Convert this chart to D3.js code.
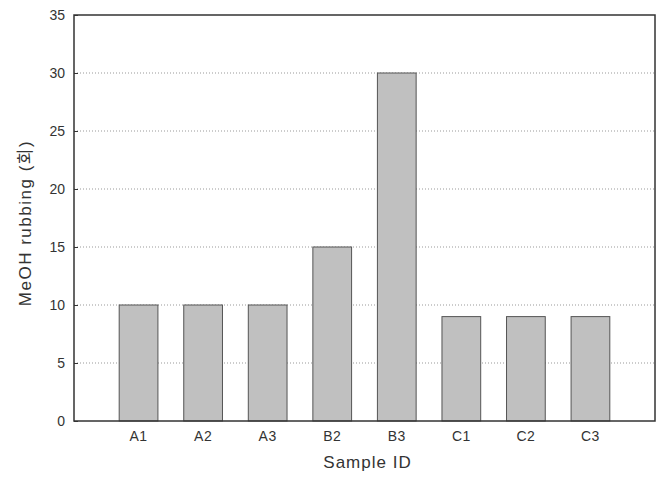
<!DOCTYPE html>
<html>
<head>
<meta charset="utf-8">
<script src="https://cdn.jsdelivr.net/npm/d3@7"></script>
<style>
  body { margin: 0; background: #fff; }
  text { font-family: "Liberation Sans", Arial, "Noto Sans CJK KR", sans-serif; fill: #333; }
</style>
</head>
<body>
<div id="chart"></div>
<script>
// data
var samples = ["A1", "A2", "A3", "B2", "B3", "C1", "C2", "C3"];
var rubbing = [10, 10, 10, 15, 30, 9, 9, 9];
var yTicks = [0, 5, 10, 15, 20, 25, 30, 35];

// set the dimensions and margins of the graph
var margin = {top: 15, right: 4, bottom: 63, left: 74},
    width = 659 - margin.left - margin.right,
    height = 484 - margin.top - margin.bottom;

var svg = d3.select("#chart").append("svg")
    .attr("width", 659)
    .attr("height", 484)
    .append("g")
    .attr("transform", "translate(" + margin.left + "," + margin.top + ")");

var x = d3.scaleBand()
    .domain(samples)
    .range([0, width])
    .paddingInner(0.4)
    .paddingOuter(0.7);

var y = d3.scaleLinear()
    .domain([0, 35])
    .range([height, 0]);

// dotted grid lines
svg.append("g")
    .selectAll("line")
    .data(yTicks.filter(function (d) { return d > 0 && d < 35; }))
    .enter().append("line")
    .attr("x1", 0)
    .attr("x2", width)
    .attr("y1", function (d) { return y(d); })
    .attr("y2", function (d) { return y(d); })
    .style("stroke", "#999")
    .style("stroke-width", 1)
    .style("stroke-dasharray", "1,2");

// bars
svg.append("g")
    .selectAll("rect")
    .data(samples)
    .enter().append("rect")
    .attr("x", function (d) { return x(d); })
    .attr("y", function (d, i) { return y(rubbing[i]); })
    .attr("width", x.bandwidth())
    .attr("height", function (d, i) { return height - y(rubbing[i]); })
    .style("fill", "#c0c0c0")
    .style("stroke", "#555")
    .style("stroke-width", 1);

// frame
svg.append("rect")
    .attr("x", 0)
    .attr("y", 0)
    .attr("width", width)
    .attr("height", height)
    .style("fill", "none")
    .style("stroke", "#333")
    .style("stroke-width", 1.5);

// y axis
var yAxis = svg.append("g")
    .call(d3.axisLeft(y).tickValues(yTicks).tickSize(-4).tickPadding(9));
yAxis.select(".domain").remove();
yAxis.selectAll("line").style("stroke", "#333");
yAxis.selectAll("text").style("font-size", "14px").style("fill", "#333");

// x axis
var xAxis = svg.append("g")
    .attr("transform", "translate(0," + height + ")")
    .call(d3.axisBottom(x).tickSize(0).tickPadding(10));
xAxis.select(".domain").remove();
xAxis.selectAll("text").style("font-size", "14px").style("letter-spacing", "0.5px").style("fill", "#333");

// axis titles
svg.append("text")
    .attr("x", width / 2 + 3)
    .attr("y", height + 47)
    .attr("text-anchor", "middle")
    .style("font-size", "17px")
    .style("letter-spacing", "1px")
    .text("Sample ID");

svg.append("text")
    .attr("transform", "rotate(-90)")
    .attr("x", -208)
    .attr("y", -43)
    .attr("text-anchor", "middle")
    .style("font-size", "17px")
    .style("letter-spacing", "1.5px")
    .text("MeOH rubbing (회)");
</script>
</body>
</html>
